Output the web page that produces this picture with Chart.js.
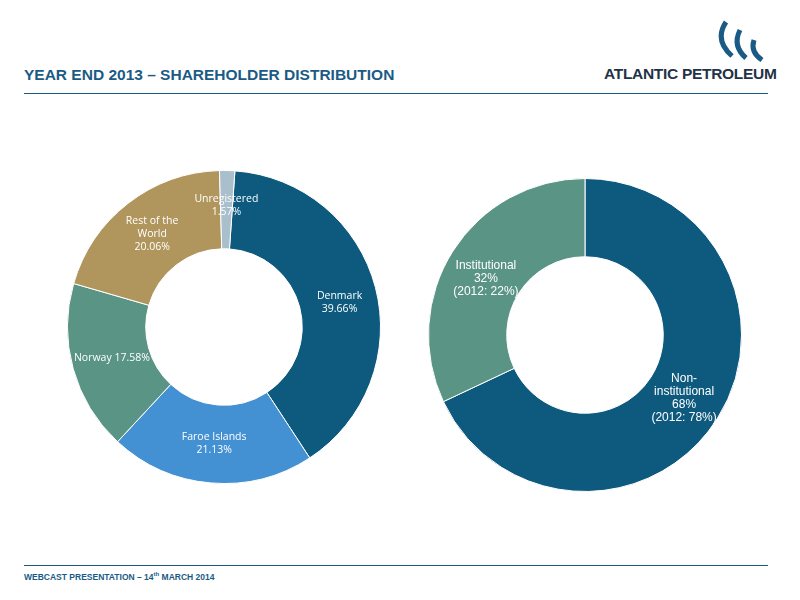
<!DOCTYPE html>
<html><head><meta charset="utf-8">
<script src="https://cdn.jsdelivr.net/npm/chart.js@4"></script>
<style>
body{margin:0;width:800px;height:600px;background:#fff;position:relative;font-family:"Liberation Sans",Arial,sans-serif;overflow:hidden}
#title{position:absolute;left:24px;top:66px;font-size:15.5px;font-weight:bold;color:#1a5b85}
.hl{position:absolute;left:24px;width:744px;height:1px;background:#1a5b85}
#foot{position:absolute;left:24px;top:571px;font-size:8.5px;font-weight:bold;color:#1a5b85}
#logo{position:absolute;left:604px;top:65px;font-size:15.5px;font-weight:bold;color:#1f3347;letter-spacing:-0.3px}
canvas{position:absolute}
</style></head><body>
<div id="title">YEAR END 2013 – SHAREHOLDER DISTRIBUTION</div>
<div class="hl" style="top:93px"></div>
<div class="hl" style="top:565px"></div>
<div id="foot">WEBCAST PRESENTATION – 14<sup style="font-size:6px">th</sup> MARCH 2014</div>
<svg style="position:absolute;left:712px;top:18px" width="60" height="46">
<path d="M14 4 Q2 22 20 38" stroke="#1a5b85" stroke-width="5" fill="none"/>
<path d="M28 12 Q20 28 34 40" stroke="#1a5b85" stroke-width="5" fill="none"/>
<path d="M42 22 Q38 34 50 42" stroke="#1a5b85" stroke-width="5" fill="none"/>
</svg>
<div id="logo">ATLANTIC PETROLEUM</div>
<div style="position:absolute;left:59px;top:162px;width:330px;height:330px"><canvas id="c1"></canvas></div>
<div style="position:absolute;left:420px;top:170px;width:330px;height:330px"><canvas id="c2"></canvas></div>
<script>
const leftCategories=["Denmark","Faroe Islands","Norway","Rest of the World","Unregistered"];
const leftValues=[39.66,21.13,17.58,20.06,1.57];
const leftLabels=[["Denmark","39.66%"],["Faroe Islands","21.13%"],["Norway 17.58%"],["Rest of the","World","20.06%"],["Unregistered","1.57%"]];
const leftColors=["#0d5a7e","#4391d3","#5a9485","#b0955c","#a9bfcb"];
const rightCategories=["Non-institutional","Institutional"];
const rightValues=[68,32];
const rightLabels=[["Non-","institutional","68%","(2012: 78%)"],["Institutional","32%","(2012: 22%)"]];
const rightColors=["#0e5a7e","#5a9485"];

function lblPlugin(lines,font,offs){return{id:'lbl',afterDatasetsDraw(ch){
 const ctx=ch.ctx;ctx.save();ctx.fillStyle='#fff';ctx.font=font;ctx.textAlign='center';ctx.textBaseline='middle';
 ch.getDatasetMeta(0).data.forEach((a,i)=>{const p=a.tooltipPosition();const o=offs[i]||[0,0];const L=lines[i];const lh=13;
  L.forEach((t,j)=>ctx.fillText(t,p.x+o[0],p.y+o[1]+(j-(L.length-1)/2)*lh));});
 ctx.restore();}}}
function mk(id,cats,vals,cols,lines,font,rot,offs){
 new Chart(document.getElementById(id),{type:'doughnut',
 data:{labels:cats,datasets:[{data:vals,backgroundColor:cols,borderColor:'#fff',borderWidth:1}]},
 options:{responsive:true,maintainAspectRatio:false,animation:false,cutout:'50%',rotation:rot,
  layout:{padding:8},plugins:{legend:{display:false},tooltip:{enabled:false}}},
 plugins:[lblPlugin(lines,font,offs)]});}
mk('c1',leftCategories,leftValues,leftColors,leftLabels,'10.5px "Open Sans", sans-serif',4,[[2,5],[0,0],[1,0],[0,0],[0,-4]]);
mk('c2',rightCategories,rightValues,rightColors,rightLabels,'12px "Liberation Sans", Arial, sans-serif',0,[[0,0],[0,7]]);
</script></body></html>
